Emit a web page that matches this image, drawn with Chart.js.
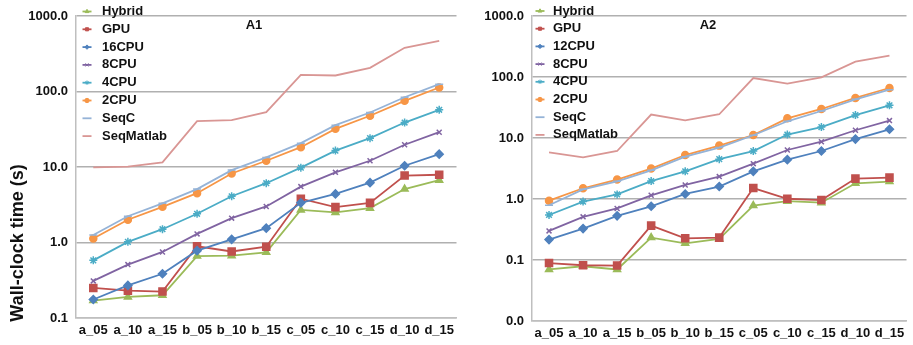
<!DOCTYPE html>
<html>
<head>
<meta charset="utf-8">
<script src="https://cdn.jsdelivr.net/npm/chart.js@4/dist/chart.umd.min.js"></script>
<style>
  html, body { margin: 0; padding: 0; background: #ffffff; }
  #wrap { position: relative; width: 913px; height: 345px; overflow: hidden; }
  canvas { position: absolute; top: 0; }
  #c1 { left: 0px; }
  #c2 { left: 463px; }
</style>
</head>
<body>
<div id="wrap">
  <canvas id="c1" width="463" height="345"></canvas>
  <canvas id="c2" width="450" height="345"></canvas>
</div>
<script>
// ---------- DATA ----------
const categories = ['a_05','a_10','a_15','b_05','b_10','b_15','c_05','c_10','c_15','d_10','d_15'];

const yTicksA1 = [0.1, 1, 10, 100, 1000];
const yTicksA2 = [0.01, 0.1, 1, 10, 100, 1000];

const seriesNamesA1 = ['Hybrid','GPU','16CPU','8CPU','4CPU','2CPU','SeqC','SeqMatlab'];
const seriesNamesA2 = ['Hybrid','GPU','12CPU','8CPU','4CPU','2CPU','SeqC','SeqMatlab'];

// A1
const a1Hybrid    = [0.17, 0.19, 0.20, 0.66, 0.67, 0.74, 2.7, 2.5, 2.85, 5.1, 6.7];
const a1GPU       = [0.25, 0.23, 0.224, 0.89, 0.76, 0.88, 3.8, 2.94, 3.35, 7.7, 7.9];
const a1CPU16     = [0.176, 0.27, 0.385, 0.78, 1.1, 1.55, 3.35, 4.4, 6.2, 10.4, 14.8];
const a1CPU8      = [0.31, 0.51, 0.75, 1.3, 2.1, 3.0, 5.5, 8.5, 12.1, 19.7, 28.9];
const a1CPU4      = [0.58, 1.02, 1.5, 2.4, 4.1, 6.1, 9.8, 16.5, 24.1, 38.8, 57.2];
const a1CPU2      = [1.13, 2.0, 2.97, 4.5, 8.2, 12.1, 18.3, 32, 47.7, 75.3, 113];
const a1SeqC      = [1.26, 2.23, 3.3, 5.1, 9.1, 13.4, 20.7, 35.8, 52.7, 84, 125];
const a1SeqMatlab = [9.9, 10.1, 11.5, 40.4, 41.7, 53.2, 166, 163, 206, 379, 468];

// A2
const a2Hybrid    = [0.070, 0.079, 0.070, 0.233, 0.188, 0.221, 0.78, 0.92, 0.87, 1.81, 1.93];
const a2GPU       = [0.089, 0.082, 0.081, 0.366, 0.227, 0.233, 1.51, 1.01, 0.96, 2.16, 2.24];
const a2CPU12     = [0.216, 0.327, 0.53, 0.76, 1.21, 1.6, 2.84, 4.42, 6.12, 9.6, 13.9];
const a2CPU8      = [0.30, 0.51, 0.70, 1.15, 1.70, 2.33, 3.8, 6.36, 8.7, 13.4, 19.3];
const a2CPU4      = [0.547, 0.906, 1.19, 1.97, 2.84, 4.5, 6.1, 11.4, 15.1, 23.8, 34.4];
const a2CPU2      = [0.94, 1.5, 2.08, 3.15, 5.26, 7.5, 11.2, 21, 29.9, 45.3, 66];
const a2SeqC      = [0.79, 1.44, 1.95, 2.95, 4.95, 6.96, 11.1, 18.8, 27.7, 43, 62];
const a2SeqMatlab = [5.83, 4.83, 6.12, 24.2, 19.5, 24.5, 96, 78, 99, 179, 224];

// ---------- STYLES ----------
const styles = [
  { color: '#9BBB59', point: 'triangle', r: 4 },
  { color: '#C0504D', point: 'rect',     r: 5 },
  { color: '#4F81BD', point: 'rectRot',  r: 4 },
  { color: '#8064A2', point: 'crossRot', r: 3.5 },
  { color: '#4BACC6', point: 'star',     r: 4 },
  { color: '#F79646', point: 'circle',   r: 3.5 },
  { color: '#95B3D7', point: 'line',     r: 4 },
  { color: '#D99694', point: false,      r: 0 }
];

const FONT = '"Liberation Sans", Arial, sans-serif';

function buildDatasets(names, arrays) {
  return names.map((n, i) => ({
    label: n,
    data: arrays[i],
    borderColor: styles[i].color,
    backgroundColor: styles[i].color,
    borderWidth: 1.8,
    pointStyle: styles[i].point,
    pointRadius: styles[i].r,
    pointBorderWidth: 1.5,
    pointBackgroundColor: styles[i].color,
    pointBorderColor: styles[i].color,
    tension: 0,
    order: names.length - i
  }));
}

function drawMarker(ctx, style, x, y, r) {
  if (Chart.helpers && Chart.helpers.drawPoint) {
    Chart.helpers.drawPoint(ctx, { pointStyle: style, rotation: 0, borderWidth: 1.2 }, x, y);
  }
}

function overlayPlugin(cfg) {
  return {
    id: 'overlay_' + cfg.id,
    afterDatasetsDraw(chart) {
      const ctx = chart.ctx;
      ctx.save();
      // panel title
      ctx.fillStyle = '#111';
      ctx.font = 'bold 13px ' + FONT;
      ctx.textAlign = 'center';
      ctx.textBaseline = 'middle';
      ctx.fillText(cfg.title, cfg.titleX, 25);
      // legend
      ctx.textAlign = 'left';
      ctx.font = 'bold 13px ' + FONT;
      chart.data.datasets.forEach((ds, i) => {
        const y = cfg.legY0 + i * cfg.legDy;
        const x = cfg.legX;
        ctx.strokeStyle = ds.borderColor;
        ctx.lineWidth = 1.8;
        ctx.beginPath();
        ctx.moveTo(x - 4.5, y);
        ctx.lineTo(x + 4.5, y);
        ctx.stroke();
        if (ds.pointStyle && ds.pointStyle !== 'line') {
          ctx.fillStyle = ds.borderColor;
          ctx.strokeStyle = ds.borderColor;
          ctx.lineWidth = 1;
          if (Chart.helpers && Chart.helpers.drawPoint) {
            Chart.helpers.drawPoint(ctx, { pointStyle: ds.pointStyle, rotation: 0, radius: 2.2, borderWidth: 1 }, x, y);
          }
        }
        ctx.fillStyle = '#111';
        ctx.fillText(ds.label, cfg.legTextX, y);
      });
      // y title
      if (cfg.yTitle) {
        ctx.translate(18, 243);
        ctx.rotate(-Math.PI / 2);
        ctx.font = 'bold 18px ' + FONT;
        ctx.textAlign = 'center';
        ctx.textBaseline = 'middle';
        ctx.fillStyle = '#111';
        ctx.fillText(cfg.yTitle, 0, 0);
      }
      ctx.restore();
    }
  };
}

function makeChart(canvasId, names, arrays, ticks, yWidth, xHeight, overlay) {
  return new Chart(document.getElementById(canvasId), {
    type: 'line',
    data: { labels: categories, datasets: buildDatasets(names, arrays) },
    options: {
      responsive: false,
      animation: false,
      devicePixelRatio: 1,
      layout: { padding: { top: 16, right: 0, left: 0, bottom: 0 } },
      plugins: { legend: { display: false }, tooltip: { enabled: false } },
      scales: {
        x: {
          type: 'category',
          offset: true,
          grid: { display: false, drawTicks: false },
          border: { display: true, color: '#BFBFBF', width: 1.5 },
          ticks: { color: '#111', font: { family: FONT, size: 13, weight: 'bold' }, padding: 5, maxRotation: 0, autoSkip: false },
          afterFit(s) { s.height = xHeight; }
        },
        y: {
          type: 'logarithmic',
          min: ticks[0],
          max: ticks[ticks.length - 1],
          grid: { color: '#B0B0B0', lineWidth: 1.5, drawTicks: false },
          border: { display: true, color: '#BFBFBF', width: 1.5 },
          ticks: {
            color: '#111',
            font: { family: FONT, size: 13, weight: 'bold' },
            padding: 8,
            callback: (v) => Number(v).toFixed(1)
          },
          afterBuildTicks(s) { s.ticks = ticks.map(v => ({ value: v, major: true })); },
          afterFit(s) { s.width = yWidth; }
        }
      }
    },
    plugins: [overlayPlugin(overlay)]
  });
}

makeChart('c1', seriesNamesA1,
  [a1Hybrid, a1GPU, a1CPU16, a1CPU8, a1CPU4, a1CPU2, a1SeqC, a1SeqMatlab],
  yTicksA1, 76, 27,
  { id: 'a1', title: 'A1', titleX: 254, legX: 87, legTextX: 102, legY0: 11.5, legDy: 17.8, yTitle: 'Wall-clock time (s)' });

makeChart('c2', seriesNamesA2,
  [a2Hybrid, a2GPU, a2CPU12, a2CPU8, a2CPU4, a2CPU2, a2SeqC, a2SeqMatlab],
  yTicksA2, 69, 24,
  { id: 'a2', title: 'A2', titleX: 708 - 463, legX: 540 - 463, legTextX: 553 - 463, legY0: 11, legDy: 17.7, yTitle: null });
</script>
</body>
</html>
